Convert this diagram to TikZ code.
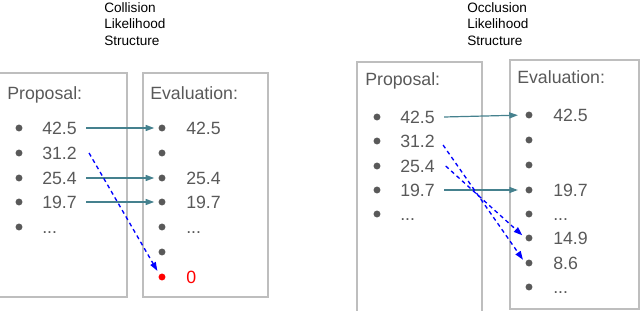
\documentclass[tikz,border=0pt]{standalone}
\usepackage{fontspec}
\setmainfont{Liberation Sans}
\usepackage{tikz}
\usetikzlibrary{
  arrows.meta
}
\definecolor{SlateGray}{RGB}{89, 89, 89}
\definecolor{PanelGray}{RGB}{190, 190, 190}
\definecolor{KeepTeal}{RGB}{69, 129, 142}
\definecolor{DropBlue}{RGB}{0, 0, 255}
\definecolor{ZeroRed}{RGB}{255, 0, 0}
\newcommand{\moredots}{...}
\tikzset{
    panel/.style={draw=PanelGray, line width=0.9pt},
    structtitle/.style={anchor=north west, inner sep=0pt, align=left, font=\fontsize{10.2}{12.4}\selectfont},
    heading/.style={anchor=base west, inner sep=0pt, text=SlateGray, font=\fontsize{13.3}{16}\selectfont},
    value/.style={anchor=west, inner sep=0pt, text height=9.5pt, text depth=0pt, text=SlateGray, font=\fontsize{13.3}{16}\selectfont},
    dot/.style={circle, fill=SlateGray, inner sep=0pt, minimum size=5.2pt},
    keep/.style={-{Triangle[length=6.5pt,width=4.5pt]}, draw=KeepTeal, line width=1.1pt, shorten >=3pt},
    drop/.style={-{Triangle[length=6.5pt,width=4.5pt]}, draw=DropBlue, line width=1pt, dash pattern=on 3pt off 2.5pt, shorten >=3pt}
}

\begin{document}
\begin{tikzpicture}[x=0.75pt, y=-0.75pt]
            \clip (0,0) rectangle (640,311);

            % collision likelihood
            \node[structtitle] (coltitle) at (104,2) {Collision\\Likelihood\\Structure};
            \draw[panel] (-2,73) rectangle (127,297);
            \draw[panel] (143,73) rectangle (268,297);
            \node[heading] (colprophead) at (7,99) {Proposal:};
            \node[heading] (colevalhead) at (150,99) {Evaluation:};
            \foreach \y/\v [count=\i] in {128/42.5, 153/31.2, 178/25.4, 202/19.7, 227/\moredots} {
                \node[dot] (cpb\i) at (19,\y) {};
                \node[value] (cpn\i) at (42,\y) {\v};
            }
            \foreach \y/\v [count=\i] in {128/42.5, 153/{}, 178/25.4, 202/19.7, 227/\moredots, 252/{}} {
                \node[dot] (ceb\i) at (162,\y) {};
                \node[value] (cen\i) at (186,\y) {\v};
            }
            \node[dot, fill=ZeroRed] (ceb7) at (162,277) {};
            \node[value, text=ZeroRed] (cen7) at (186,277) {0};

            \draw[keep] ([xshift=6.75pt]cpn1.east) -- (ceb1.west);
            \draw[keep] ([xshift=6.75pt]cpn3.east) -- (ceb3.west);
            \draw[keep] ([xshift=6.75pt]cpn4.east) -- (ceb4.west);
            \draw[drop] ([xshift=9pt]cpn2.east) -- (ceb7.north west);

            % occlusion likelihood
            \node[structtitle] (occtitle) at (467,2) {Occlusion\\Likelihood\\Structure};
            \draw[panel] (357,62) rectangle (482,316);
            \draw[panel] (510,60) rectangle (639,309);
            \node[heading] (occprophead) at (365,85) {Proposal:};
            \node[heading] (occevalhead) at (517,83) {Evaluation:};
            \foreach \y/\v [count=\i] in {117/42.5, 141/31.2, 166/25.4, 190/19.7, 214/\moredots} {
                \node[dot] (opb\i) at (377,\y) {};
                \node[value] (opn\i) at (400,\y) {\v};
            }
            \foreach \y/\v [count=\i] in {115/42.5, 140/{}, 165/{}, 190/19.7, 214/\moredots, 238/14.9, 263/8.6, 287/\moredots} {
                \node[dot] (oeb\i) at (529,\y) {};
                \node[value] (oen\i) at (553,\y) {\v};
            }

            \draw[keep, line width=0.9pt, shorten >=5.5pt] ([xshift=6.75pt]opn1.east) -- (oeb1.west);
            \draw[keep, shorten >=5.5pt] ([xshift=6.75pt]opn4.east) -- (oeb4.west);
            \draw[drop] ([xshift=6pt,yshift=-3pt]opn2.east) -- (oeb7.west);
            \draw[drop] ([xshift=8pt]opn3.east) -- (oeb6.west);
\end{tikzpicture}
\end{document}
